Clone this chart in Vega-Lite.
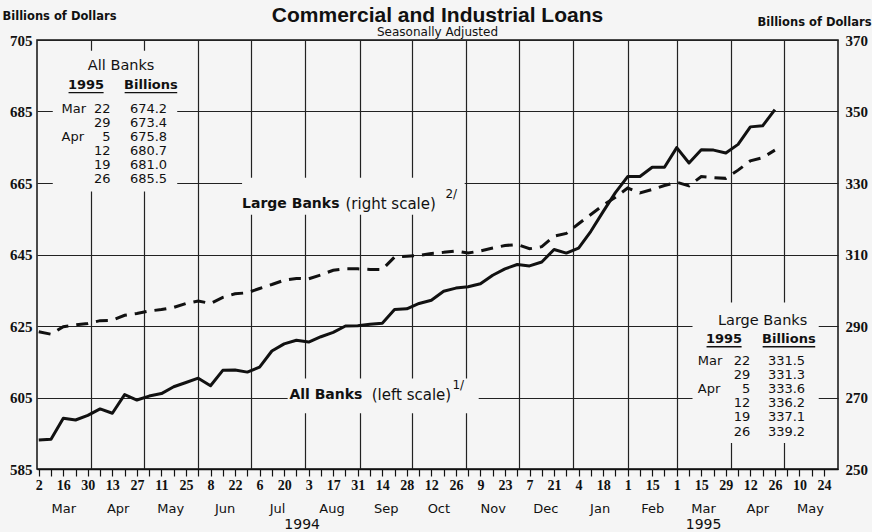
{
  "$schema": "https://vega.github.io/schema/vega-lite/v6.json",
  "width": 801,
  "height": 429,
  "autosize": "none",
  "padding": {"left": 37, "top": 40, "right": 34, "bottom": 63},
  "background": "#f5f5f5",
  "config": {
    "view": {"stroke": "#111", "strokeWidth": 1.5},
    "axis": {"labelColor": "#111", "domainColor": "#111", "tickColor": "#111", "gridColor": "#222", "gridOpacity": 1, "titleColor": "#111"},
    "text": {"color": "#111", "font": "DejaVu Sans", "baseline": "middle"}
  },
  "title": {
    "text": "Commercial and Industrial Loans",
    "subtitle": "Seasonally Adjusted",
    "anchor": "middle",
    "frame": "group",
    "font": "Liberation Sans",
    "fontSize": 21,
    "fontWeight": "bold",
    "color": "#111",
    "subtitleFont": "DejaVu Sans",
    "subtitleFontSize": 12,
    "subtitleColor": "#111",
    "subtitlePadding": 1,
    "offset": -28
  },
  "datasets": {
    "loans": [
      {"date": "1994-03-02", "all": 593.1, "large": 288.4},
      {"date": "1994-03-09", "all": 593.3, "large": 287.7},
      {"date": "1994-03-16", "all": 599.2, "large": 289.8},
      {"date": "1994-03-23", "all": 598.7, "large": 290.3},
      {"date": "1994-03-30", "all": 600.0, "large": 290.7},
      {"date": "1994-04-06", "all": 601.8, "large": 291.5},
      {"date": "1994-04-13", "all": 600.6, "large": 291.6},
      {"date": "1994-04-20", "all": 605.8, "large": 293.0},
      {"date": "1994-04-27", "all": 604.3, "large": 293.5},
      {"date": "1994-05-04", "all": 605.4, "large": 294.2},
      {"date": "1994-05-11", "all": 606.1, "large": 294.6},
      {"date": "1994-05-18", "all": 608.0, "large": 295.2},
      {"date": "1994-05-25", "all": 609.2, "large": 296.3},
      {"date": "1994-06-01", "all": 610.4, "large": 297.0},
      {"date": "1994-06-08", "all": 608.3, "large": 296.3},
      {"date": "1994-06-15", "all": 612.6, "large": 298.0},
      {"date": "1994-06-22", "all": 612.7, "large": 299.0},
      {"date": "1994-06-29", "all": 612.1, "large": 299.3},
      {"date": "1994-07-06", "all": 613.5, "large": 300.5},
      {"date": "1994-07-13", "all": 618.0, "large": 301.6},
      {"date": "1994-07-20", "all": 620.0, "large": 302.8},
      {"date": "1994-07-27", "all": 621.0, "large": 303.3},
      {"date": "1994-08-03", "all": 620.5, "large": 303.2},
      {"date": "1994-08-10", "all": 622.0, "large": 304.3},
      {"date": "1994-08-17", "all": 623.2, "large": 305.6},
      {"date": "1994-08-24", "all": 625.0, "large": 306.0},
      {"date": "1994-08-31", "all": 625.1, "large": 306.0},
      {"date": "1994-09-07", "all": 625.5, "large": 305.8},
      {"date": "1994-09-14", "all": 625.8, "large": 305.8},
      {"date": "1994-09-21", "all": 629.6, "large": 309.3},
      {"date": "1994-09-28", "all": 629.8, "large": 309.5},
      {"date": "1994-10-05", "all": 631.3, "large": 309.7},
      {"date": "1994-10-12", "all": 632.2, "large": 310.3},
      {"date": "1994-10-19", "all": 634.7, "large": 310.6},
      {"date": "1994-10-26", "all": 635.6, "large": 311.0},
      {"date": "1994-11-02", "all": 636.0, "large": 310.4},
      {"date": "1994-11-09", "all": 636.8, "large": 311.0},
      {"date": "1994-11-16", "all": 639.2, "large": 311.8},
      {"date": "1994-11-23", "all": 641.0, "large": 312.5},
      {"date": "1994-11-30", "all": 642.2, "large": 312.8},
      {"date": "1994-12-07", "all": 641.8, "large": 311.6},
      {"date": "1994-12-14", "all": 642.9, "large": 312.2},
      {"date": "1994-12-21", "all": 646.4, "large": 315.1},
      {"date": "1994-12-28", "all": 645.4, "large": 315.9},
      {"date": "1995-01-04", "all": 646.8, "large": 318.6},
      {"date": "1995-01-11", "all": 651.5, "large": 321.2},
      {"date": "1995-01-18", "all": 657.0, "large": 323.8},
      {"date": "1995-01-25", "all": 662.3, "large": 326.0},
      {"date": "1995-02-01", "all": 666.8, "large": 328.6},
      {"date": "1995-02-08", "all": 666.8, "large": 327.2},
      {"date": "1995-02-15", "all": 669.4, "large": 328.2},
      {"date": "1995-02-22", "all": 669.4, "large": 329.3},
      {"date": "1995-03-01", "all": 674.9, "large": 330.2},
      {"date": "1995-03-08", "all": 670.6, "large": 329.2},
      {"date": "1995-03-15", "all": 674.3, "large": 331.8},
      {"date": "1995-03-22", "all": 674.2, "large": 331.5},
      {"date": "1995-03-29", "all": 673.4, "large": 331.3},
      {"date": "1995-04-05", "all": 675.8, "large": 333.6},
      {"date": "1995-04-12", "all": 680.7, "large": 336.2},
      {"date": "1995-04-19", "all": 681.0, "large": 337.1},
      {"date": "1995-04-26", "all": 685.5, "large": 339.2}
    ],
    "masks": [
      {"x1": "1994-03-10", "x2": "1994-05-20", "y1": 662.6, "y2": 702.0},
      {"x1": "1995-03-10", "x2": "1995-05-21", "y1": 592.3, "y2": 631.6},
      {"x1": "1994-06-26", "x2": "1994-10-31", "y1": 656.1, "y2": 666.5},
      {"x1": "1994-07-22", "x2": "1994-11-08", "y1": 600.6, "y2": 610.3}
    ],
    "underlines": [
      {"x1": "1994-03-19", "x2": "1994-04-08", "y": 690.3},
      {"x1": "1994-04-20", "x2": "1994-05-20", "y": 690.3},
      {"x1": "1995-03-18", "x2": "1995-04-07", "y": 619.2},
      {"x1": "1995-04-19", "x2": "1995-05-19", "y": 619.2}
    ],
    "notes": [
      {"t": "All Banks", "d": "1994-04-18", "v": 697.8, "k": "ttl"},
      {"t": "Large Banks", "d": "1995-04-19", "v": 626.4, "k": "ttl"},
      {"t": "1995", "d": "1994-03-29", "v": 692.3, "k": "hdr"},
      {"t": "Billions", "d": "1994-05-05", "v": 692.3, "k": "hdr"},
      {"t": "1995", "d": "1995-03-28", "v": 621.3, "k": "hdr"},
      {"t": "Billions", "d": "1995-05-04", "v": 621.3, "k": "hdr"},
      {"t": "Mar", "d": "1994-03-15", "v": 685.8, "k": "mon"},
      {"t": "Apr", "d": "1994-03-15", "v": 678.0, "k": "mon"},
      {"t": "Mar", "d": "1995-03-13", "v": 615.1, "k": "mon"},
      {"t": "Apr", "d": "1995-03-13", "v": 607.4, "k": "mon"},
      {"t": "22", "d": "1994-04-12", "v": 685.8, "k": "day"},
      {"t": "29", "d": "1994-04-12", "v": 681.8, "k": "day"},
      {"t": "5", "d": "1994-04-12", "v": 678.0, "k": "day"},
      {"t": "12", "d": "1994-04-12", "v": 674.0, "k": "day"},
      {"t": "19", "d": "1994-04-12", "v": 670.1, "k": "day"},
      {"t": "26", "d": "1994-04-12", "v": 666.0, "k": "day"},
      {"t": "22", "d": "1995-04-12", "v": 615.1, "k": "day"},
      {"t": "29", "d": "1995-04-12", "v": 611.2, "k": "day"},
      {"t": "5", "d": "1995-04-12", "v": 607.4, "k": "day"},
      {"t": "12", "d": "1995-04-12", "v": 603.4, "k": "day"},
      {"t": "19", "d": "1995-04-12", "v": 599.5, "k": "day"},
      {"t": "26", "d": "1995-04-12", "v": 595.4, "k": "day"},
      {"t": "674.2", "d": "1994-04-23", "v": 685.8, "k": "val"},
      {"t": "673.4", "d": "1994-04-23", "v": 681.8, "k": "val"},
      {"t": "675.8", "d": "1994-04-23", "v": 678.0, "k": "val"},
      {"t": "680.7", "d": "1994-04-23", "v": 674.0, "k": "val"},
      {"t": "681.0", "d": "1994-04-23", "v": 670.1, "k": "val"},
      {"t": "685.5", "d": "1994-04-23", "v": 666.0, "k": "val"},
      {"t": "331.5", "d": "1995-04-22", "v": 615.1, "k": "val"},
      {"t": "331.3", "d": "1995-04-22", "v": 611.2, "k": "val"},
      {"t": "333.6", "d": "1995-04-22", "v": 607.4, "k": "val"},
      {"t": "336.2", "d": "1995-04-22", "v": 603.4, "k": "val"},
      {"t": "337.1", "d": "1995-04-22", "v": 599.5, "k": "val"},
      {"t": "339.2", "d": "1995-04-22", "v": 595.4, "k": "val"},
      {"t": "Large Banks", "d": "1994-06-26", "v": 659.1, "k": "lbb"},
      {"t": "All Banks", "d": "1994-07-23", "v": 605.6, "k": "lbb"},
      {"t": "(right scale)", "d": "1994-08-24", "v": 659.1, "k": "lbn"},
      {"t": "(left scale)", "d": "1994-09-08", "v": 605.6, "k": "lbn"},
      {"t": "2/", "d": "1994-10-20", "v": 662.0, "k": "sup"},
      {"t": "1/", "d": "1994-10-24", "v": 608.4, "k": "sup"}
    ]
  },
  "layer": [
    {
      "data": {"name": "masks"},
      "mark": {"type": "rect", "color": "#f5f5f5"},
      "encoding": {
        "x": {"field": "x1", "type": "temporal",
          "scale": {"type": "utc", "domain": [{"year": 1994, "month": 3, "date": 1, "utc": true}, {"year": 1995, "month": 6, "date": 1, "utc": true}]},
          "axis": {"orient": "bottom", "grid": true, "gridWidth": 1.2, "ticks": false, "labels": false, "domain": false, "title": null,
            "values": [
              {"year": 1994, "month": 4, "date": 1, "utc": true}, {"year": 1994, "month": 5, "date": 1, "utc": true},
              {"year": 1994, "month": 6, "date": 1, "utc": true}, {"year": 1994, "month": 7, "date": 1, "utc": true},
              {"year": 1994, "month": 8, "date": 1, "utc": true}, {"year": 1994, "month": 9, "date": 1, "utc": true},
              {"year": 1994, "month": 10, "date": 1, "utc": true}, {"year": 1994, "month": 11, "date": 1, "utc": true},
              {"year": 1994, "month": 12, "date": 1, "utc": true}, {"year": 1995, "month": 1, "date": 1, "utc": true},
              {"year": 1995, "month": 2, "date": 1, "utc": true}, {"year": 1995, "month": 3, "date": 1, "utc": true},
              {"year": 1995, "month": 4, "date": 1, "utc": true}, {"year": 1995, "month": 5, "date": 1, "utc": true}
            ]}},
        "x2": {"field": "x2"},
        "y": {"field": "y1", "type": "quantitative", "scale": {"domain": [585, 705]}, "axis": null},
        "y2": {"field": "y2"}
      }
    },
    {
      "data": {"name": "loans"},
      "mark": {"type": "line", "color": "#111", "strokeWidth": 3, "strokeJoin": "round"},
      "encoding": {
        "x": {"field": "date", "type": "temporal",
          "scale": {"type": "utc", "domain": [{"year": 1994, "month": 3, "date": 1, "utc": true}, {"year": 1995, "month": 6, "date": 1, "utc": true}]},
          "axis": {"orient": "bottom", "labels": false, "ticks": true, "tickSize": 7, "tickWidth": 1.2, "domain": true, "domainWidth": 1.6, "grid": false, "title": null,
            "values": [
              {"year": 1994, "month": 3, "date": 2, "utc": true}, {"year": 1994, "month": 3, "date": 9, "utc": true},
              {"year": 1994, "month": 3, "date": 16, "utc": true}, {"year": 1994, "month": 3, "date": 23, "utc": true},
              {"year": 1994, "month": 3, "date": 30, "utc": true}, {"year": 1994, "month": 4, "date": 6, "utc": true},
              {"year": 1994, "month": 4, "date": 13, "utc": true}, {"year": 1994, "month": 4, "date": 20, "utc": true},
              {"year": 1994, "month": 4, "date": 27, "utc": true}, {"year": 1994, "month": 5, "date": 4, "utc": true},
              {"year": 1994, "month": 5, "date": 11, "utc": true}, {"year": 1994, "month": 5, "date": 18, "utc": true},
              {"year": 1994, "month": 5, "date": 25, "utc": true}, {"year": 1994, "month": 6, "date": 1, "utc": true},
              {"year": 1994, "month": 6, "date": 8, "utc": true}, {"year": 1994, "month": 6, "date": 15, "utc": true},
              {"year": 1994, "month": 6, "date": 22, "utc": true}, {"year": 1994, "month": 6, "date": 29, "utc": true},
              {"year": 1994, "month": 7, "date": 6, "utc": true}, {"year": 1994, "month": 7, "date": 13, "utc": true},
              {"year": 1994, "month": 7, "date": 20, "utc": true}, {"year": 1994, "month": 7, "date": 27, "utc": true},
              {"year": 1994, "month": 8, "date": 3, "utc": true}, {"year": 1994, "month": 8, "date": 10, "utc": true},
              {"year": 1994, "month": 8, "date": 17, "utc": true}, {"year": 1994, "month": 8, "date": 24, "utc": true},
              {"year": 1994, "month": 8, "date": 31, "utc": true}, {"year": 1994, "month": 9, "date": 7, "utc": true},
              {"year": 1994, "month": 9, "date": 14, "utc": true}, {"year": 1994, "month": 9, "date": 21, "utc": true},
              {"year": 1994, "month": 9, "date": 28, "utc": true}, {"year": 1994, "month": 10, "date": 5, "utc": true},
              {"year": 1994, "month": 10, "date": 12, "utc": true}, {"year": 1994, "month": 10, "date": 19, "utc": true},
              {"year": 1994, "month": 10, "date": 26, "utc": true}, {"year": 1994, "month": 11, "date": 2, "utc": true},
              {"year": 1994, "month": 11, "date": 9, "utc": true}, {"year": 1994, "month": 11, "date": 16, "utc": true},
              {"year": 1994, "month": 11, "date": 23, "utc": true}, {"year": 1994, "month": 11, "date": 30, "utc": true},
              {"year": 1994, "month": 12, "date": 7, "utc": true}, {"year": 1994, "month": 12, "date": 14, "utc": true},
              {"year": 1994, "month": 12, "date": 21, "utc": true}, {"year": 1994, "month": 12, "date": 28, "utc": true},
              {"year": 1995, "month": 1, "date": 4, "utc": true}, {"year": 1995, "month": 1, "date": 11, "utc": true},
              {"year": 1995, "month": 1, "date": 18, "utc": true}, {"year": 1995, "month": 1, "date": 25, "utc": true},
              {"year": 1995, "month": 2, "date": 1, "utc": true}, {"year": 1995, "month": 2, "date": 8, "utc": true},
              {"year": 1995, "month": 2, "date": 15, "utc": true}, {"year": 1995, "month": 2, "date": 22, "utc": true},
              {"year": 1995, "month": 3, "date": 1, "utc": true}, {"year": 1995, "month": 3, "date": 8, "utc": true},
              {"year": 1995, "month": 3, "date": 15, "utc": true}, {"year": 1995, "month": 3, "date": 22, "utc": true},
              {"year": 1995, "month": 3, "date": 29, "utc": true}, {"year": 1995, "month": 4, "date": 5, "utc": true},
              {"year": 1995, "month": 4, "date": 12, "utc": true}, {"year": 1995, "month": 4, "date": 19, "utc": true},
              {"year": 1995, "month": 4, "date": 26, "utc": true}, {"year": 1995, "month": 5, "date": 3, "utc": true},
              {"year": 1995, "month": 5, "date": 10, "utc": true}, {"year": 1995, "month": 5, "date": 17, "utc": true},
              {"year": 1995, "month": 5, "date": 24, "utc": true}
            ]}},
        "y": {"field": "all", "type": "quantitative", "scale": {"domain": [585, 705]},
          "axis": {"orient": "left", "values": [585, 605, 625, 645, 665, 685, 705], "grid": true, "gridWidth": 1.2, "ticks": false, "domain": false,
            "labelPadding": 5, "labelFont": "Liberation Sans Narrow", "labelFontSize": 15, "labelFontWeight": "bold",
            "title": "Billions of Dollars", "titleAngle": 0, "titleAlign": "left", "titleBaseline": "middle", "titleX": -35, "titleY": -24,
            "titleFont": "DejaVu Sans", "titleFontSize": 11.5, "titleFontWeight": "bold"}}
      }
    },
    {
      "data": {"name": "loans"},
      "mark": {"type": "line", "color": "#111", "strokeWidth": 3, "strokeDash": [12, 8]},
      "encoding": {
        "x": {"field": "date", "type": "temporal",
          "scale": {"type": "utc", "domain": [{"year": 1994, "month": 3, "date": 1, "utc": true}, {"year": 1995, "month": 6, "date": 1, "utc": true}]},
          "axis": null},
        "y": {"field": "large", "type": "quantitative", "scale": {"domain": [250, 370]},
          "axis": {"orient": "right", "values": [250, 270, 290, 310, 330, 350, 370], "grid": false, "ticks": false, "domain": false,
            "labelPadding": 7, "labelFont": "Liberation Sans Narrow", "labelFontSize": 15, "labelFontWeight": "bold",
            "title": "Billions of Dollars", "titleAngle": 0, "titleAlign": "right", "titleBaseline": "middle", "titleX": 33, "titleY": -18,
            "titleFont": "DejaVu Sans", "titleFontSize": 11.5, "titleFontWeight": "bold"}}
      }
    },
    {
      "data": {"name": "underlines"},
      "mark": {"type": "rule", "color": "#111", "strokeWidth": 1.3},
      "encoding": {
        "x": {"field": "x1", "type": "temporal",
          "scale": {"type": "utc", "domain": [{"year": 1994, "month": 3, "date": 1, "utc": true}, {"year": 1995, "month": 6, "date": 1, "utc": true}]},
          "axis": null},
        "x2": {"field": "x2"},
        "y": {"field": "y", "type": "quantitative", "scale": {"domain": [585, 705]}, "axis": null}
      }
    },
    {
      "data": {"name": "notes"},
      "transform": [{"filter": "datum.k === 'ttl'"}],
      "mark": {"type": "text", "align": "center", "fontSize": 14.5},
      "encoding": {
        "x": {"field": "d", "type": "temporal",
          "scale": {"type": "utc", "domain": [{"year": 1994, "month": 3, "date": 1, "utc": true}, {"year": 1995, "month": 6, "date": 1, "utc": true}]},
          "axis": null},
        "y": {"field": "v", "type": "quantitative", "scale": {"domain": [585, 705]}, "axis": null},
        "text": {"field": "t"}
      }
    },
    {
      "data": {"name": "notes"},
      "transform": [{"filter": "datum.k === 'hdr'"}],
      "mark": {"type": "text", "align": "center", "fontSize": 13, "fontWeight": "bold"},
      "encoding": {
        "x": {"field": "d", "type": "temporal",
          "scale": {"type": "utc", "domain": [{"year": 1994, "month": 3, "date": 1, "utc": true}, {"year": 1995, "month": 6, "date": 1, "utc": true}]},
          "axis": null},
        "y": {"field": "v", "type": "quantitative", "scale": {"domain": [585, 705]}, "axis": null},
        "text": {"field": "t"}
      }
    },
    {
      "data": {"name": "notes"},
      "transform": [{"filter": "datum.k === 'mon'"}],
      "mark": {"type": "text", "align": "left", "fontSize": 13},
      "encoding": {
        "x": {"field": "d", "type": "temporal",
          "scale": {"type": "utc", "domain": [{"year": 1994, "month": 3, "date": 1, "utc": true}, {"year": 1995, "month": 6, "date": 1, "utc": true}]},
          "axis": {"orient": "bottom", "format": "%Y", "ticks": false, "domain": false, "grid": false, "labelPadding": 48, "labelFlush": false, "labelOverlap": false,
            "labelFont": "DejaVu Sans", "labelFontSize": 14, "title": null,
            "values": [{"year": 1994, "month": 7, "date": 30, "utc": true}, {"year": 1995, "month": 3, "date": 16, "utc": true}]}},
        "y": {"field": "v", "type": "quantitative", "scale": {"domain": [585, 705]}, "axis": null},
        "text": {"field": "t"}
      }
    },
    {
      "data": {"name": "notes"},
      "transform": [{"filter": "datum.k === 'day'"}],
      "mark": {"type": "text", "align": "right", "fontSize": 13},
      "encoding": {
        "x": {"field": "d", "type": "temporal",
          "scale": {"type": "utc", "domain": [{"year": 1994, "month": 3, "date": 1, "utc": true}, {"year": 1995, "month": 6, "date": 1, "utc": true}]},
          "axis": {"orient": "bottom", "format": "%b", "ticks": false, "domain": false, "grid": false, "labelPadding": 33, "labelFlush": false, "labelOverlap": false,
            "labelFont": "DejaVu Sans", "labelFontSize": 13, "title": null,
            "values": [
              {"year": 1994, "month": 3, "date": 16, "utc": true}, {"year": 1994, "month": 4, "date": 16, "utc": true},
              {"year": 1994, "month": 5, "date": 16, "utc": true}, {"year": 1994, "month": 6, "date": 16, "utc": true},
              {"year": 1994, "month": 7, "date": 16, "utc": true}, {"year": 1994, "month": 8, "date": 16, "utc": true},
              {"year": 1994, "month": 9, "date": 16, "utc": true}, {"year": 1994, "month": 10, "date": 16, "utc": true},
              {"year": 1994, "month": 11, "date": 16, "utc": true}, {"year": 1994, "month": 12, "date": 16, "utc": true},
              {"year": 1995, "month": 1, "date": 16, "utc": true}, {"year": 1995, "month": 2, "date": 15, "utc": true},
              {"year": 1995, "month": 3, "date": 16, "utc": true}, {"year": 1995, "month": 4, "date": 16, "utc": true},
              {"year": 1995, "month": 5, "date": 16, "utc": true}
            ]}},
        "y": {"field": "v", "type": "quantitative", "scale": {"domain": [585, 705]}, "axis": null},
        "text": {"field": "t"}
      }
    },
    {
      "data": {"name": "notes"},
      "transform": [{"filter": "datum.k === 'val'"}],
      "mark": {"type": "text", "align": "left", "fontSize": 13},
      "encoding": {
        "x": {"field": "d", "type": "temporal",
          "scale": {"type": "utc", "domain": [{"year": 1994, "month": 3, "date": 1, "utc": true}, {"year": 1995, "month": 6, "date": 1, "utc": true}]},
          "axis": {"orient": "bottom", "format": "%-d", "ticks": false, "domain": false, "grid": false, "labelPadding": 9, "labelFlush": false, "labelOverlap": false,
            "labelFont": "Liberation Sans Narrow", "labelFontSize": 14, "labelFontWeight": "bold", "title": null,
            "values": [
              {"year": 1994, "month": 3, "date": 2, "utc": true}, {"year": 1994, "month": 3, "date": 16, "utc": true},
              {"year": 1994, "month": 3, "date": 30, "utc": true}, {"year": 1994, "month": 4, "date": 13, "utc": true},
              {"year": 1994, "month": 4, "date": 27, "utc": true}, {"year": 1994, "month": 5, "date": 11, "utc": true},
              {"year": 1994, "month": 5, "date": 25, "utc": true}, {"year": 1994, "month": 6, "date": 8, "utc": true},
              {"year": 1994, "month": 6, "date": 22, "utc": true}, {"year": 1994, "month": 7, "date": 6, "utc": true},
              {"year": 1994, "month": 7, "date": 20, "utc": true}, {"year": 1994, "month": 8, "date": 3, "utc": true},
              {"year": 1994, "month": 8, "date": 17, "utc": true}, {"year": 1994, "month": 8, "date": 31, "utc": true},
              {"year": 1994, "month": 9, "date": 14, "utc": true}, {"year": 1994, "month": 9, "date": 28, "utc": true},
              {"year": 1994, "month": 10, "date": 12, "utc": true}, {"year": 1994, "month": 10, "date": 26, "utc": true},
              {"year": 1994, "month": 11, "date": 9, "utc": true}, {"year": 1994, "month": 11, "date": 23, "utc": true},
              {"year": 1994, "month": 12, "date": 7, "utc": true}, {"year": 1994, "month": 12, "date": 21, "utc": true},
              {"year": 1995, "month": 1, "date": 4, "utc": true}, {"year": 1995, "month": 1, "date": 18, "utc": true},
              {"year": 1995, "month": 2, "date": 1, "utc": true}, {"year": 1995, "month": 2, "date": 15, "utc": true},
              {"year": 1995, "month": 3, "date": 1, "utc": true}, {"year": 1995, "month": 3, "date": 15, "utc": true},
              {"year": 1995, "month": 3, "date": 29, "utc": true}, {"year": 1995, "month": 4, "date": 12, "utc": true},
              {"year": 1995, "month": 4, "date": 26, "utc": true}, {"year": 1995, "month": 5, "date": 10, "utc": true},
              {"year": 1995, "month": 5, "date": 24, "utc": true}
            ]}},
        "y": {"field": "v", "type": "quantitative", "scale": {"domain": [585, 705]}, "axis": null},
        "text": {"field": "t"}
      }
    },
    {
      "data": {"name": "notes"},
      "transform": [{"filter": "datum.k === 'lbb'"}],
      "mark": {"type": "text", "align": "left", "fontSize": 14, "fontWeight": "bold"},
      "encoding": {
        "x": {"field": "d", "type": "temporal",
          "scale": {"type": "utc", "domain": [{"year": 1994, "month": 3, "date": 1, "utc": true}, {"year": 1995, "month": 6, "date": 1, "utc": true}]},
          "axis": null},
        "y": {"field": "v", "type": "quantitative", "scale": {"domain": [585, 705]}, "axis": null},
        "text": {"field": "t"}
      }
    },
    {
      "data": {"name": "notes"},
      "transform": [{"filter": "datum.k === 'lbn'"}],
      "mark": {"type": "text", "align": "left", "fontSize": 15},
      "encoding": {
        "x": {"field": "d", "type": "temporal",
          "scale": {"type": "utc", "domain": [{"year": 1994, "month": 3, "date": 1, "utc": true}, {"year": 1995, "month": 6, "date": 1, "utc": true}]},
          "axis": null},
        "y": {"field": "v", "type": "quantitative", "scale": {"domain": [585, 705]}, "axis": null},
        "text": {"field": "t"}
      }
    },
    {
      "data": {"name": "notes"},
      "transform": [{"filter": "datum.k === 'sup'"}],
      "mark": {"type": "text", "align": "left", "fontSize": 12},
      "encoding": {
        "x": {"field": "d", "type": "temporal",
          "scale": {"type": "utc", "domain": [{"year": 1994, "month": 3, "date": 1, "utc": true}, {"year": 1995, "month": 6, "date": 1, "utc": true}]},
          "axis": null},
        "y": {"field": "v", "type": "quantitative", "scale": {"domain": [585, 705]}, "axis": null},
        "text": {"field": "t"}
      }
    }
  ],
  "resolve": {"scale": {"y": "independent"}, "axis": {"x": "independent", "y": "independent"}}
}
